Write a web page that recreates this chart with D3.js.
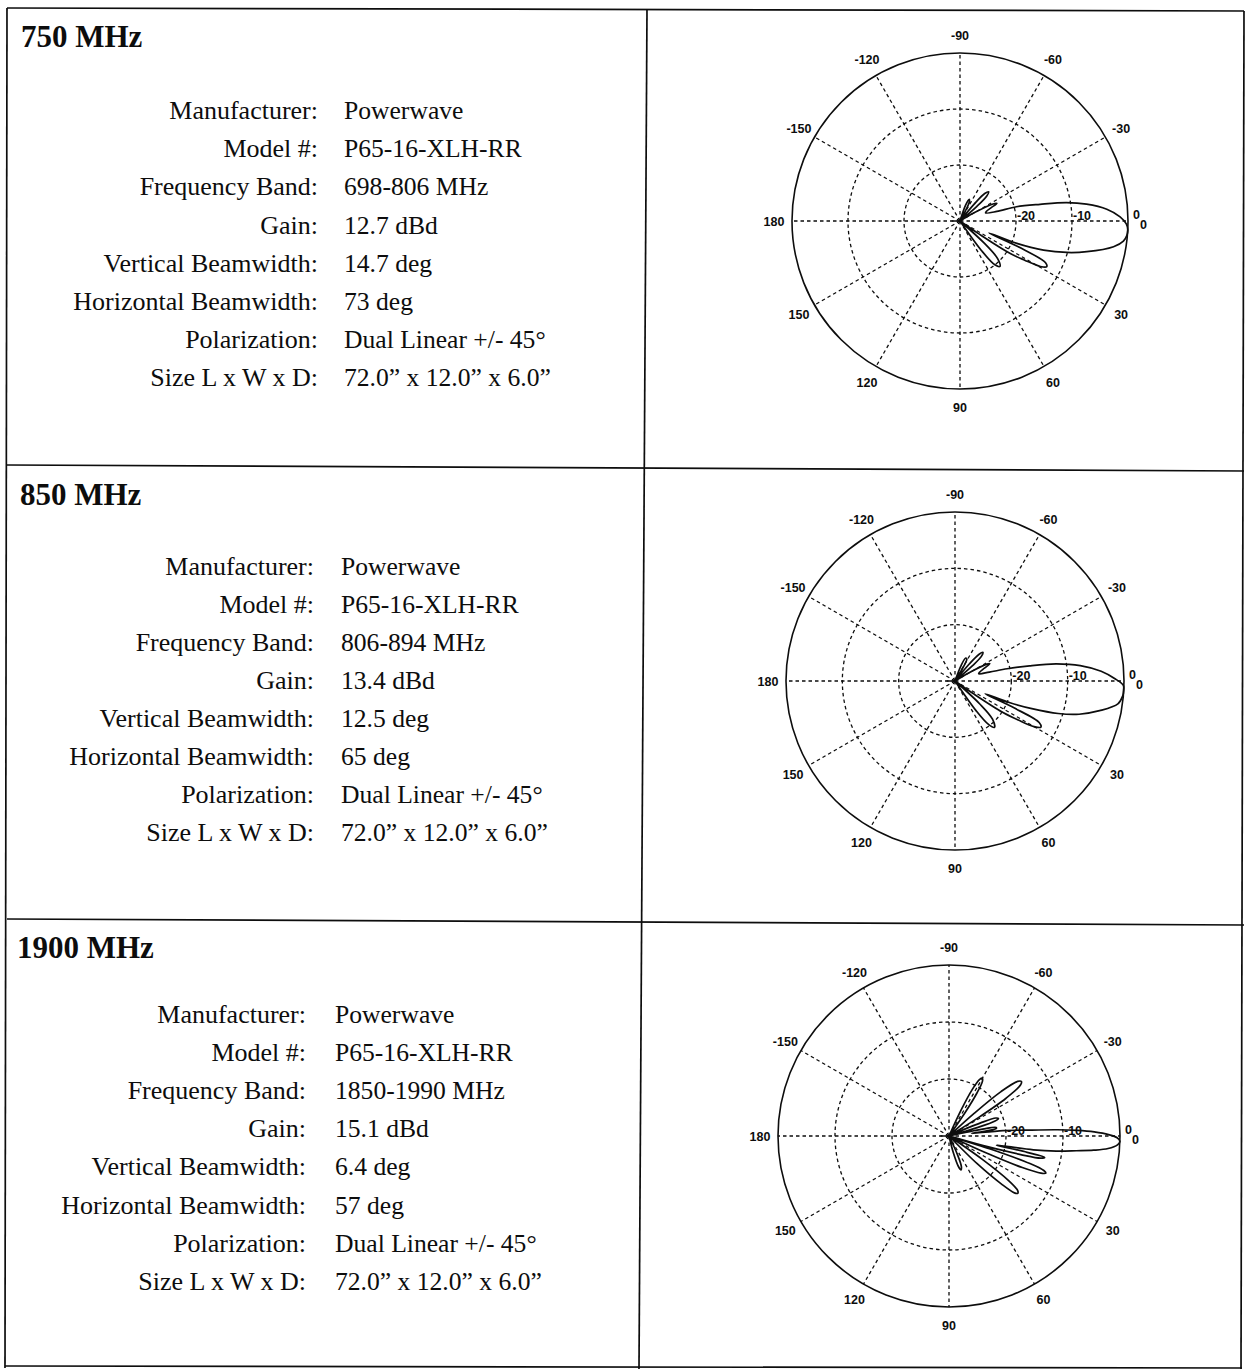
<!DOCTYPE html>
<html>
<head>
<meta charset="utf-8">
<script src="https://cdn.jsdelivr.net/npm/d3@7/dist/d3.min.js"></script>
<style>
  html, body { margin: 0; padding: 0; background: #fff; }
  svg { display: block; }
</style>
</head>
<body>
<svg id="chart" width="1246" height="1369"></svg>
<script>
// ---------------- DATA ----------------
const bandTitles = ["750 MHz", "850 MHz", "1900 MHz"];
const fieldLabels = ["Manufacturer:", "Model #:", "Frequency Band:", "Gain:",
  "Vertical Beamwidth:", "Horizontal Beamwidth:", "Polarization:", "Size L x W x D:"];
const specs750  = ["Powerwave", "P65-16-XLH-RR", "698-806 MHz", "12.7 dBd", "14.7 deg", "73 deg", "Dual Linear +/- 45°", "72.0” x 12.0” x 6.0”"];
const specs850  = ["Powerwave", "P65-16-XLH-RR", "806-894 MHz", "13.4 dBd", "12.5 deg", "65 deg", "Dual Linear +/- 45°", "72.0” x 12.0” x 6.0”"];
const specs1900 = ["Powerwave", "P65-16-XLH-RR", "1850-1990 MHz", "15.1 dBd", "6.4 deg", "57 deg", "Dual Linear +/- 45°", "72.0” x 12.0” x 6.0”"];

// polar axis ticks (angle in degrees, positive = clockwise from 0 at right)
const angleTicks = [0, 30, 60, 90, 120, 150, 180, -150, -120, -90, -60, -30];
const ringTicks = [-20, -10, 0];          // dB rings
const radialDomain = [-30, 0];            // dB at centre .. dB at outer circle

// elevation patterns: [angle deg, relative level dB]
const pattern750 = [
  [-180,-28.5],[-176,-30],[-90,-30],
  [-73,-30],[-70.5,-27],[-67,-25.8],[-64,-26.2],[-61.5,-28],[-59,-30],
  [-52,-30],[-50,-26],[-48,-23.4],[-45.5,-22.7],[-43,-23.5],[-41,-26],[-39,-30],
  [-33,-30],[-30,-27],[-27.5,-23.5],[-25.5,-22.7],[-23,-24],[-20,-25],[-17.5,-25.2],
  [-14.6,-23.2],[-14.2,-19.6],[-11.8,-15.4],[-9.8,-10.7],[-7.6,-7.2],[-4.6,-3.7],[-1.5,-1.4],[1,-0.3],[3,0],[5,-0.1],[7,-0.6],[9.5,-2.2],[13.6,-6.7],[16.4,-10.1],[19.2,-14.2],[21.5,-19.1],[22.4,-24.4],
  [24,-18],[26,-13],[27.8,-12.5],[29.5,-13.5],[31.2,-16.5],[32.9,-19.4],[34.3,-26],[35,-30],
  [40,-30],[42.5,-24],[45,-20.5],[48.7,-19.2],[51.5,-20],[54,-23.5],[56.5,-30],
  [170,-30],[176,-30],[180,-28.5]
];
const pattern850 = [
  [-180,-28.5],[-176,-30],[-90,-30],
  [-71,-30],[-68.5,-27],[-65,-25.5],[-61.5,-25.6],[-59,-28],[-57,-30],
  [-52,-30],[-50,-26],[-48,-23.6],[-45.7,-22.9],[-43,-23.6],[-41,-26],[-39,-30],
  [-33,-30],[-30.5,-27],[-28,-23.6],[-26.5,-23.1],[-23.5,-24.3],[-20,-25.3],[-17,-25.6],
  [-14.5,-23.7],[-13.2,-20.5],[-11.5,-16.5],[-9.6,-11.8],[-7,-7.6],[-3.8,-4],[-0.8,-1.6],[1.5,-0.1],[3.2,0],[5,-0.1],[8,-0.8],[11.6,-3.8],[15,-7.2],[17.5,-10.8],[19.8,-15.5],[21.6,-19.5],[23,-24.2],
  [24.5,-18.5],[26.3,-13.3],[28.3,-12.7],[30,-13.8],[31.7,-16.8],[33.3,-19.8],[34.6,-26],[35.3,-30],
  [40,-30],[42.8,-24],[45.5,-20.5],[49.6,-19.2],[52.3,-20.2],[54.6,-23.5],[57,-30],
  [170,-30],[176,-30],[180,-28.5]
];
const pattern1900 = [
  [-180,-28.5],[-176,-30],[-90,-30],
  [-67,-30],[-65,-25],[-63.5,-21],[-61.5,-18.7],[-60,-18.3],[-58.5,-18.8],[-57,-21],[-55.5,-25],[-54,-30],
  [-44,-30],[-42,-24],[-40.5,-18],[-38.5,-14.6],[-37,-14.1],[-35.5,-14.6],[-33.5,-18],[-32,-24],[-30,-30],
  [-24,-30],[-22.5,-24],[-21,-21.2],[-19.5,-20.8],[-18,-21.5],[-16.5,-25],[-15,-30],
  [-13,-30],[-11.5,-24],[-10.2,-21.6],[-9,-21.6],[-7.5,-24],[-6.5,-26],
  [-5.8,-20.5],[-4.5,-17],[-3.3,-11],[-2.5,-7.5],[-1.6,-4.5],[-0.5,-2],[0.6,-0.5],[1.8,0],[3,-0.4],[4.5,-2],[5.6,-4.5],[6.6,-7.5],[8,-11],[9.3,-15],[10.3,-20],
  [11,-21.5],[11.8,-16],[12.6,-12.8],[13.6,-13.5],[14.5,-17],[15.5,-23],[16.3,-30],
  [17.5,-22],[18.8,-15],[20,-12.3],[21,-11.8],[22,-12.6],[23.3,-16],[24.5,-23],[25.5,-30],
  [33,-30],[35,-23],[36.8,-17],[38.5,-14.6],[39.8,-14.3],[41,-14.8],[42.5,-17.5],[44.5,-23],[46.5,-30],
  [63,-30],[65.5,-26.5],[68,-24.2],[70.5,-23.7],[73,-24.5],[75.5,-27],[77.5,-30],
  [170,-30],[176,-30],[180,-28.5]
];

// ---------------- LAYOUT ----------------
const panels = [
  { title: bandTitles[0], specs: specs750,  pattern: pattern750,
    tx: 21, ty: 47, labelRight: 318, valueX: 344, row0: 119, step: 38.2, cx: 960, cy: 221, R: 168 },
  { title: bandTitles[1], specs: specs850,  pattern: pattern850,
    tx: 20, ty: 505, labelRight: 314, valueX: 341, row0: 575, step: 38.0, cx: 955, cy: 681, R: 169 },
  { title: bandTitles[2], specs: specs1900, pattern: pattern1900,
    tx: 17, ty: 958, labelRight: 306, valueX: 335, row0: 1023, step: 38.1, cx: 949, cy: 1136, R: 171 }
];
const tableLines = [
  [7, 8, 1244, 11], [7, 465, 1244, 471], [7, 919, 1244, 925], [5, 1366, 1242, 1368],
  [7, 8, 5, 1368], [647, 9, 639, 1369], [1244, 11, 1241, 1369]
];

const svg = d3.select("#chart");
svg.append("rect").attr("width", 1246).attr("height", 1369).attr("fill", "#fff");

const ink = "#0d0d0d";
const serif = "'Liberation Serif', 'Times New Roman', serif";
const sans = "'Liberation Sans', Arial, Helvetica, sans-serif";

// table
svg.append("g").selectAll("line").data(tableLines).join("line")
  .attr("x1", d => d[0]).attr("y1", d => d[1]).attr("x2", d => d[2]).attr("y2", d => d[3])
  .attr("stroke", ink).attr("stroke-width", 1.7);

panels.forEach(p => {
  const g = svg.append("g");
  // title
  g.append("text").attr("x", p.tx).attr("y", p.ty)
    .attr("font-family", serif).attr("font-weight", "bold").attr("font-size", 31)
    .attr("fill", ink).text(p.title);
  // labels
  g.selectAll("text.lab").data(fieldLabels).join("text").attr("class", "lab")
    .attr("x", p.labelRight).attr("y", (d, i) => p.row0 + i * p.step)
    .attr("text-anchor", "end").attr("font-family", serif).attr("font-size", 26)
    .attr("fill", ink).text(d => d);
  g.selectAll("text.val").data(p.specs).join("text").attr("class", "val")
    .attr("x", p.valueX).attr("y", (d, i) => p.row0 + i * p.step)
    .attr("font-family", serif).attr("font-size", 25.6)
    .attr("fill", ink).text(d => d);

  // polar chart
  const pg = svg.append("g").attr("transform", `translate(${p.cx},${p.cy})`);
  const r = d3.scaleLinear().domain(radialDomain).range([0, p.R]).clamp(true);
  const toRad = d3.scaleLinear().domain([0, 360]).range([Math.PI / 2, Math.PI / 2 + 2 * Math.PI]);
  const xy = (deg, rad) => [rad * Math.cos(deg * Math.PI / 180), rad * Math.sin(deg * Math.PI / 180)];

  // spokes
  pg.selectAll("line.spoke").data(angleTicks).join("line").attr("class", "spoke")
    .attr("x1", 0).attr("y1", 0)
    .attr("x2", d => xy(d, p.R)[0]).attr("y2", d => xy(d, p.R)[1])
    .attr("stroke", ink).attr("stroke-width", 1.3).attr("stroke-dasharray", "3.5,3");
  // rings
  pg.selectAll("circle.ring").data(ringTicks.filter(v => v < 0)).join("circle").attr("class", "ring")
    .attr("r", d => r(d)).attr("fill", "none")
    .attr("stroke", ink).attr("stroke-width", 1.3).attr("stroke-dasharray", "3.5,3");
  pg.append("circle").attr("r", r(0)).attr("fill", "none").attr("stroke", ink).attr("stroke-width", 1.6);

  // angle labels
  pg.selectAll("text.ang").data(angleTicks).join("text").attr("class", "ang")
    .attr("x", d => d === 0 ? p.R + 5 : xy(d, p.R + 18)[0])
    .attr("y", d => d === 0 ? -2 : xy(d, p.R + 18)[1] + 4.5)
    .attr("text-anchor", d => d === 0 ? "start" : "middle")
    .attr("font-family", sans).attr("font-weight", "bold").attr("font-size", 12.5)
    .attr("fill", ink).text(d => d);
  // radial labels
  pg.selectAll("text.rad").data(ringTicks).join("text").attr("class", "rad")
    .attr("x", d => d === 0 ? r(d) + 12 : r(d) + 1)
    .attr("y", d => d === 0 ? 8 : -1.5)
    .attr("font-family", sans).attr("font-weight", "bold").attr("font-size", 12.5)
    .attr("fill", ink).text(d => d);

  // pattern
  const line = d3.lineRadial()
    .angle(d => toRad(d[0]))
    .radius(d => r(d[1]))
    .curve(d3.curveCatmullRom.alpha(0.5));
  pg.append("path").datum(p.pattern).attr("d", line)
    .attr("fill", "none").attr("stroke", ink).attr("stroke-width", 1.7).attr("stroke-linejoin", "round");
});
</script>
</body>
</html>
